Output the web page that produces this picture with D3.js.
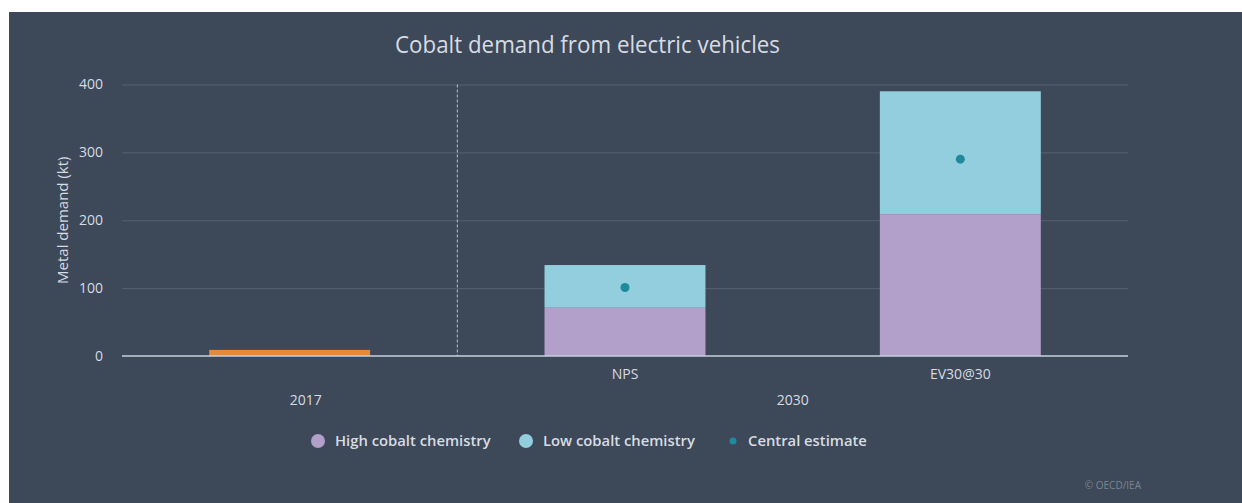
<!DOCTYPE html>
<html>
<head>
<meta charset="utf-8">
<script src="https://cdn.jsdelivr.net/npm/d3@7"></script>
<style>
  html, body { margin: 0; padding: 0; background: #ffffff; }
  svg { display: block; }
  text { font-family: "Open Sans", "Noto Sans", sans-serif; }
</style>
</head>
<body>
<svg id="chart" width="1242" height="503"></svg>
<script>
// Cobalt demand from electric vehicles (kt)
const categories = ["2017", "NPS", "EV30@30"];
const groupLabels = [
  { label: "2017", from: "2017", to: "2017" },
  { label: "2030", from: "NPS", to: "EV30@30" }
];
const historical = [9, null, null];
const highCobalt = [null, 71, 209];
const lowCobalt = [null, 134, 390];
const centralEstimate = [null, 101, 290];
const yTicks = [0, 100, 200, 300, 400];
const seriesNames = ["High cobalt chemistry", "Low cobalt chemistry", "Central estimate"];

const colors = {
  panel: "#3d4858",
  grid: "#566171",
  baseline: "#c9d1dc",
  text: "#d7dce3",
  orange: "#e5893b",
  high: "#b29fca",
  low: "#93cede",
  central: "#1f8a9c"
};

const svg = d3.select("#chart");
const W = 1242, H = 503;

svg.append("rect").attr("x", 9).attr("y", 12).attr("width", W - 9).attr("height", H - 12)
  .attr("fill", colors.panel);

const plot = { left: 122, right: 1128, top: 84.5, bottom: 356 };

const x = d3.scaleBand().domain(categories).range([plot.left, plot.right]).paddingInner(0.52).paddingOuter(0.26);
const y = d3.scaleLinear().domain([0, 400]).range([plot.bottom, plot.top]);

// title
svg.append("text").attr("x", 395).attr("y", 53)
  .attr("fill", colors.text).attr("font-size", 24).attr("font-weight", 400)
  .attr("textLength", 385).attr("lengthAdjust", "spacingAndGlyphs")
  .text("Cobalt demand from electric vehicles");

// grid lines
const yAxis = d3.axisLeft(y).tickValues(yTicks).tickSize(-(plot.right - plot.left)).tickPadding(19);
const gy = svg.append("g").attr("transform", `translate(${plot.left},0)`).call(yAxis);
gy.select(".domain").remove();
gy.selectAll(".tick line").attr("stroke", colors.grid).attr("stroke-width", 1)
  .attr("opacity", d => d === 0 ? 0 : 1);
gy.selectAll(".tick text").attr("fill", colors.text).attr("font-size", 14)
  .attr("font-family", "Open Sans, sans-serif");

// y axis title
svg.append("text").attr("transform", `translate(68,${(plot.top + plot.bottom) / 2}) rotate(-90)`)
  .attr("text-anchor", "middle").attr("fill", colors.text).attr("font-size", 15)
  .text("Metal demand (kt)");

// divider between historical year and projections
const divX = (x("2017") + x.bandwidth() / 2 + x("NPS") + x.bandwidth() / 2) / 2;
svg.append("line").attr("x1", divX).attr("x2", divX).attr("y1", plot.top).attr("y2", plot.bottom)
  .attr("stroke", "#b8c0cc").attr("stroke-width", 1).attr("stroke-dasharray", "3,2");

// bars
const bars = svg.append("g");
categories.forEach((c, i) => {
  if (historical[i] != null) {
    bars.append("rect").attr("x", x(c)).attr("width", x.bandwidth())
      .attr("y", y(historical[i])).attr("height", y(0) - y(historical[i]))
      .attr("fill", colors.orange);
  }
  if (lowCobalt[i] != null) {
    bars.append("rect").attr("x", x(c)).attr("width", x.bandwidth())
      .attr("y", y(lowCobalt[i])).attr("height", y(highCobalt[i]) - y(lowCobalt[i]))
      .attr("fill", colors.low);
  }
  if (highCobalt[i] != null) {
    bars.append("rect").attr("x", x(c)).attr("width", x.bandwidth())
      .attr("y", y(highCobalt[i])).attr("height", y(0) - y(highCobalt[i]))
      .attr("fill", colors.high);
  }
  if (centralEstimate[i] != null) {
    bars.append("circle").attr("cx", x(c) + x.bandwidth() / 2).attr("cy", y(centralEstimate[i]))
      .attr("r", 4.5).attr("fill", colors.central);
  }
});

// baseline
svg.append("line").attr("x1", plot.left).attr("x2", plot.right).attr("y1", y(0)).attr("y2", y(0))
  .attr("stroke", colors.baseline).attr("stroke-width", 1.5);

// category labels
const gx = svg.append("g").attr("transform", `translate(0,${plot.bottom})`)
  .call(d3.axisBottom(x).tickSize(0).tickPadding(13).tickFormat(d => d === "2017" ? "" : d));
gx.select(".domain").remove();
gx.selectAll("text").attr("fill", colors.text).attr("font-size", 14)
  .attr("font-family", "Open Sans, sans-serif");

// group labels
groupLabels.forEach(g => {
  let cx = (x(g.from) + x(g.to) + x.bandwidth()) / 2;
  if (g.label === "2017") cx += 16;
  svg.append("text").attr("x", cx).attr("y", 405).attr("text-anchor", "middle")
    .attr("fill", colors.text).attr("font-size", 14).text(g.label);
});

// legend
const legendItems = [
  { name: seriesNames[0], color: colors.high, r: 7, cx: 318, tx: 335 },
  { name: seriesNames[1], color: colors.low, r: 7, cx: 526, tx: 543 },
  { name: seriesNames[2], color: colors.central, r: 3.5, cx: 733, tx: 748 }
];
const lg = svg.append("g");
legendItems.forEach(it => {
  lg.append("circle").attr("cx", it.cx).attr("cy", 441).attr("r", it.r).attr("fill", it.color);
  lg.append("text").attr("x", it.tx).attr("y", 446).attr("fill", colors.text)
    .attr("font-size", 14.8).attr("font-weight", 600).text(it.name);
});

// credit
svg.append("text").attr("x", 1141).attr("y", 489).attr("text-anchor", "end")
  .attr("fill", "#7d8593").attr("font-size", 10).text("© OECD/IEA");
</script>
</body>
</html>
